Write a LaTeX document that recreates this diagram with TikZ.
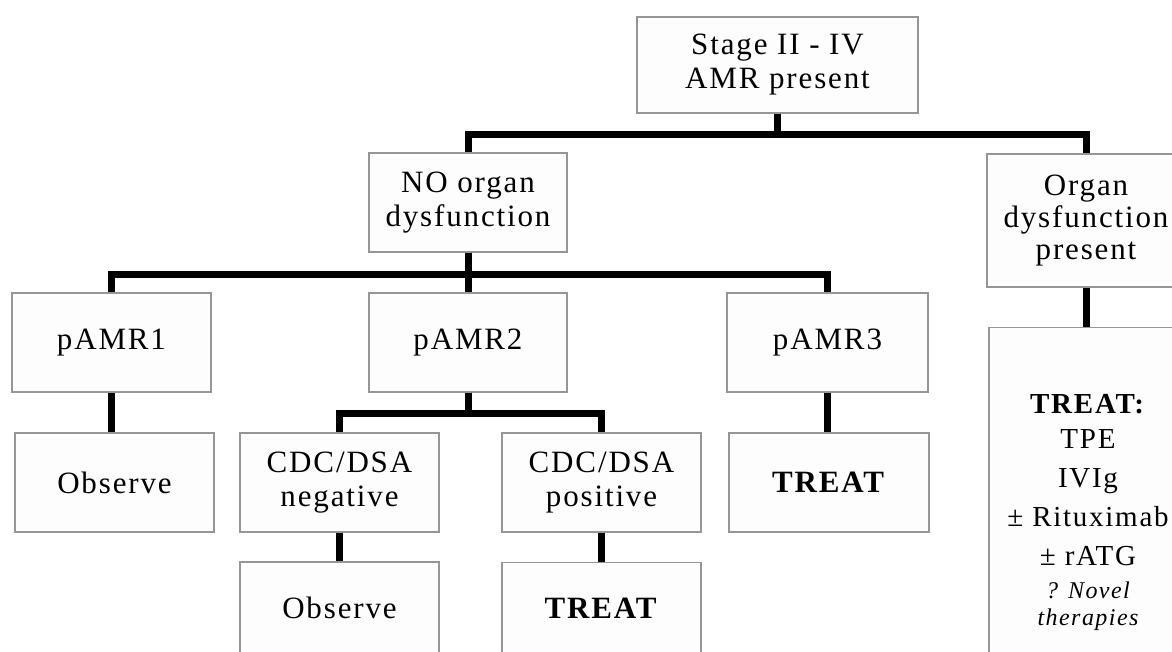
\documentclass[tikz,border=0pt]{standalone}
\usepackage{fontspec}
\setmainfont[LetterSpace=6]{Liberation Serif}
\usetikzlibrary{shadows}
\definecolor{boxgray}{RGB}{150,150,150}
\definecolor{boxfill}{RGB}{253,253,253}
\begin{document}
\begin{tikzpicture}[x=1pt,y=-1pt,
  box/.style={draw=boxgray, fill=boxfill, line width=1.2pt, minimum width=199pt,
    minimum height=99pt, inner sep=0pt, align=center,
    font=\fontsize{31}{34}\selectfont,
    drop shadow={shadow xshift=1pt,shadow yshift=-1.2pt,fill=gray!70,opacity=1}},
  conn/.style={line width=7pt, line join=miter, draw=black}]
\useasboundingbox (0,0) rectangle (1172,652);

\node[box, minimum width=281pt, minimum height=96pt] (top) at (777.5,65) {Stage II - IV\\AMR present};
\node[box, minimum width=198pt] (noorg) at (468,202.5) {NO organ\\dysfunction};
\node[box, minimum width=198pt, minimum height=133pt, font=\fontsize{31}{32}\selectfont] (organ) at (1086,220.5) {Organ\\dysfunction\\present};

\node[box] (pamr1) at (111.5,342.5) {pAMR1};
\node[box, minimum width=198pt] (pamr2) at (468,342.5) {pAMR2};
\node[box, minimum width=201pt] (pamr3) at (827.5,342.5) {pAMR3};

\node[box] (obs1) at (114.5,482.5) {Observe};
\node[box] (cdcneg) at (339.5,482.5) {CDC/DSA\\negative};
\node[box] (cdcpos) at (601.5,482.5) {CDC/DSA\\positive};
\node[box, minimum width=200pt] (treat3) at (829,482.5) {\textbf{TREAT}};

\node[box, minimum height=92pt] (obs2) at (339.5,608) {Observe};
\node[box, minimum height=92pt] (treat2) at (601.5,608.5) {\textbf{TREAT}};

\node[box, anchor=north, minimum width=198pt, minimum height=370pt,
  font=\fontsize{29}{39}\selectfont] (otreat) at (1088,327)
  {\textbf{TREAT:}\\[-4pt] TPE\\ IVIg\\ ± Rituximab\\ ± rATG\\[-6pt]
   {\itshape\fontsize{24}{25}\selectfont ? Novel}\\[-12pt]
   {\itshape\fontsize{24}{25}\selectfont therapies}};

\draw[conn] (top.south) -- ++(0,21) -| (noorg.north);
\draw[conn] (top.south) -- ++(0,21) -| (organ.north);
\draw[conn] (noorg.south) -- ++(0,22) -| (pamr1.north);
\draw[conn] (noorg.south) -- (pamr2.north);
\draw[conn] (noorg.south) -- ++(0,22) -| (pamr3.north);
\draw[conn] (pamr1.south) -- (pamr1.south |- obs1.north);
\draw[conn] (pamr2.south) -- ++(0,21) -| (cdcneg.north);
\draw[conn] (pamr2.south) -- ++(0,21) -| (cdcpos.north);
\draw[conn] (pamr3.south) -- (pamr3.south |- treat3.north);
\draw[conn] (cdcneg.south) -- (cdcneg.south |- obs2.north);
\draw[conn] (cdcpos.south) -- (cdcpos.south |- treat2.north);
\draw[conn] (organ.south) -- (organ.south |- otreat.north);
\end{tikzpicture}
\end{document}
